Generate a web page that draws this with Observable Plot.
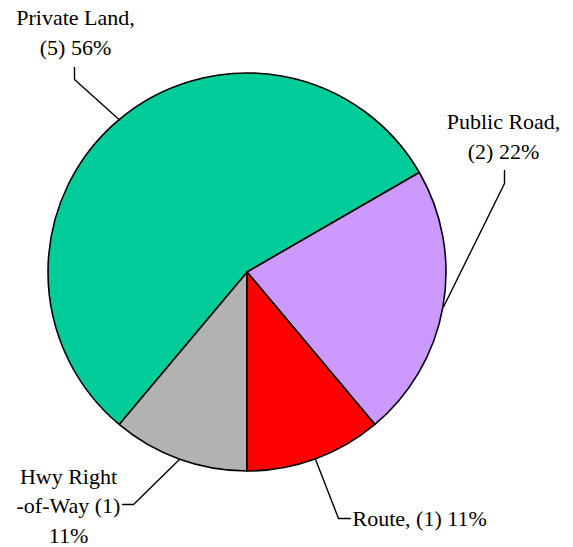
<!DOCTYPE html>
<html><head><meta charset="utf-8">
<script src="https://cdn.jsdelivr.net/npm/d3@7"></script>
<script src="https://cdn.jsdelivr.net/npm/@observablehq/plot@0.6"></script>
<style>body{margin:0;background:#fff} svg text{font-family:"Liberation Serif", serif !important;}</style>
</head><body><div id="chart"></div>
<script>
// ---- data ----
const categories = ["Hwy Right-of-Way", "Private Land", "Public Road", "Route"];
const counts = [1, 5, 2, 1];
const percents = [11, 56, 22, 11];
const labels = ["Hwy Right\n-of-Way (1)\n11%", "Private Land,\n(5) 56%", "Public Road,\n(2) 22%", "Route, (1) 11%"];
const colors = ["#b2b2b2", "#00cc99", "#cc99ff", "#ff0000"];

// ---- layout (pixels) ----
const W = 573, H = 547, cx = 247, cy = 272, R = 199;
const labelLayout = [
  {tx: 68,  ty: 542, anchor: "middle", elbow: [133, 504], end: [122, 504]},
  {tx: 75,  ty: 54,  anchor: "middle", elbow: [74, 79],   end: [74, 67]},
  {tx: 503, ty: 158, anchor: "middle", elbow: [504, 183], end: [504, 170]},
  {tx: 352, ty: 525, anchor: "start",  elbow: [338, 518], end: [350, 518]}
];

const rows = categories.map((c, i) => ({category: c, count: counts[i], pct: percents[i], label: labels[i], color: colors[i]}));
const arcs = d3.pie().value(d => d.count).sort(null).startAngle(Math.PI).endAngle(3 * Math.PI)(rows);

const leaders = [];
arcs.forEach((a, i) => {
  const m = (a.startAngle + a.endAngle) / 2;
  const L = labelLayout[i];
  leaders.push({category: a.data.category, x: cx + R * Math.sin(m), y: cy - R * Math.cos(m)});
  leaders.push({category: a.data.category, x: L.elbow[0], y: L.elbow[1]});
  leaders.push({category: a.data.category, x: L.end[0], y: L.end[1]});
});
const textRows = rows.map((r, i) => ({...r, x: labelLayout[i].tx, y: labelLayout[i].ty, anchor: labelLayout[i].anchor}));

const slices = (index, scales) => {
  const X = scales.x, Y = scales.y;
  const ox = X(cx), oy = Y(cy), rr = X(cx + R) - X(cx);
  const g = d3.create("svg:g");
  g.selectAll("path").data(arcs).join("path")
    .attr("transform", `translate(${ox},${oy})`)
    .attr("d", d3.arc().innerRadius(0).outerRadius(rr))
    .attr("fill", d => d.data.color)
    .attr("stroke", "#000")
    .attr("stroke-width", 1.6)
    .attr("stroke-linejoin", "round");
  return g.node();
};

const FONT = "Liberation Serif";
const chart = Plot.plot({
  width: W, height: H,
  margin: 0,
  x: {type: "linear", domain: [0, W], range: [0, W], axis: null},
  y: {type: "linear", domain: [0, H], range: [0, H], axis: null},
  style: {fontFamily: FONT, background: "#fff"},
  marks: [
    slices,
    Plot.line(leaders, {x: "x", y: "y", z: "category", stroke: "#000", strokeWidth: 1.4, curve: "linear"}),
    Plot.text(textRows.filter(d => d.anchor === "middle"), {x: "x", y: "y", text: "label", textAnchor: "middle", lineAnchor: "bottom", lineHeight: 1.33, fontSize: 22, fontFamily: FONT, fill: "#000"}),
    Plot.text(textRows.filter(d => d.anchor === "start"), {x: "x", y: "y", text: "label", textAnchor: "start", lineAnchor: "bottom", fontSize: 22, fontFamily: FONT, fill: "#000"})
  ]
});
document.getElementById("chart").appendChild(chart);
</script>
</body></html>
